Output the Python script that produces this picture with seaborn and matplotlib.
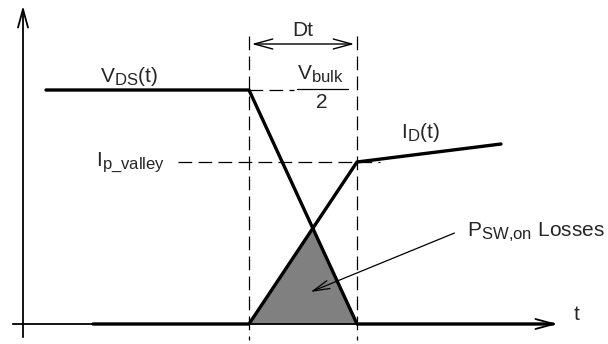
import matplotlib
matplotlib.use("Agg")
import matplotlib.pyplot as plt
import matplotlib._mathtext as mtext
import seaborn as sns
import pandas as pd
import numpy as np

# waveform corner points (time, level) in drawing units
vds_t = [46, 249, 357, 553]
vds_v = [90, 90, 324, 324]
id_t = [93, 249, 357, 501]
id_v = [324, 324, 162, 144]
t_on, t_off = 249, 357
v_half, i_valley, zero = 90, 162, 324

sns.set_theme(style="white")
plt.rcParams["font.family"] = ["Liberation Sans", "DejaVu Sans"]
plt.rcParams["mathtext.fontset"] = "custom"
plt.rcParams["mathtext.rm"] = "Liberation Sans"
plt.rcParams["mathtext.it"] = "Liberation Sans"
# subscripts in the original are a bit bigger than mathtext's default
mtext.SHRINK_FACTOR = 0.8
fs = 15

fig = plt.figure(figsize=(6.08, 3.44), dpi=100)
ax = fig.add_axes([0, 0, 1, 1])
ax.set_xlim(0, 608)
ax.set_ylim(344, 0)
ax.axis("off")

df = pd.concat([
    pd.DataFrame({"t": vds_t, "v": vds_v, "sig": "vds"}),
    pd.DataFrame({"t": id_t, "v": id_v, "sig": "id"}),
])

# shaded loss triangle (overlap of the two ramps)
s = (zero - v_half) / ((zero - v_half) + (zero - i_valley))
xc = t_on + (t_off - t_on) * s
yc = v_half + (zero - v_half) * s
ax.fill([t_on, xc, t_off], [zero, yc, zero], color="#808080", zorder=1)

# axes arrows
arr = dict(arrowstyle="->,head_length=1.1,head_width=0.3", lw=1.3, color="black")
ax.annotate("", xy=(23, 3), xytext=(23, 340), arrowprops=arr)
ax.annotate("", xy=(560, zero), xytext=(10, zero), arrowprops=arr)

sns.lineplot(data=df, x="t", y="v", units="sig", estimator=None, sort=False,
             color="black", lw=2.4, ax=ax, zorder=3)

# dashed guides
dash = dict(color="black", lw=0.9, ls=(0, (11, 5)))
ax.plot([t_on, t_on], [36, 340], **dash)
ax.plot([t_off, t_off], [36, 340], **dash)
ax.plot([t_on, 294], [v_half, v_half], **dash)
ax.plot([178, 380], [i_valley, i_valley], **dash)

# Dt arrow
ax.annotate("", xy=(t_on, 44), xytext=(t_off, 44),
            arrowprops=dict(arrowstyle="<->,head_length=1.1,head_width=0.3", lw=1.0, color="black"))
ax.text((t_on + t_off) / 2, 31, "Dt", ha="center", va="center", fontsize=fs)

# V_bulk / 2
ax.text(320, 74, r"$\mathrm{V_{bulk}}$", ha="center", va="center", fontsize=fs)
ax.plot([297, 348], [89, 89], color="black", lw=0.9)
ax.text(322, 102, "2", ha="center", va="center", fontsize=fs)

# labels
ax.text(100, 77, r"$\mathrm{V_{DS}(t)}$", ha="left", va="center", fontsize=fs)
ax.text(401, 132, r"$\mathrm{I_{D}(t)}$", ha="left", va="center", fontsize=fs)
ax.text(96, 162, r"$\mathrm{I_{p\_valley}}$", ha="left", va="center", fontsize=fs)
ax.text(574, 315, "t", ha="left", va="center", fontsize=fs)
ax.text(467, 232, r"$\mathrm{P_{SW{,}on}}$ Losses", ha="left", va="center", fontsize=fs)

ax.annotate("", xy=(308, 293), xytext=(457, 232),
            arrowprops=dict(arrowstyle="->,head_length=1.0,head_width=0.25", lw=0.9, color="black"))

fig.savefig("out.png", dpi=100)
